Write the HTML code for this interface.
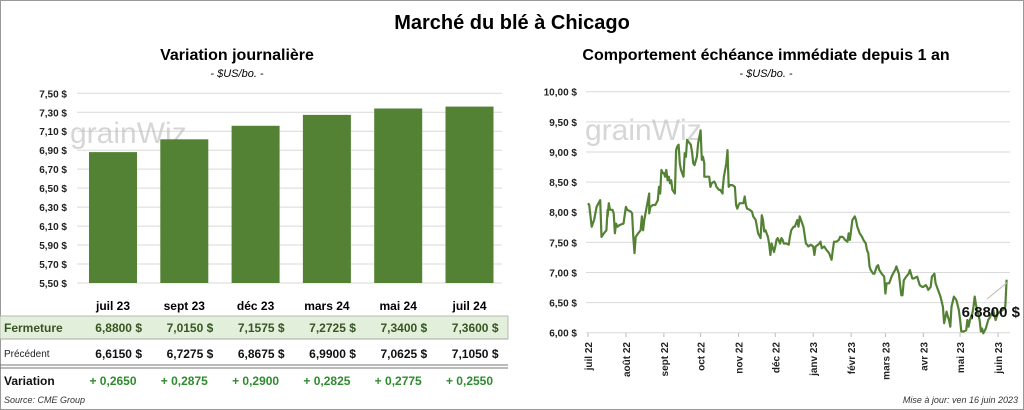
<!DOCTYPE html>
<html><head><meta charset="utf-8"><style>
body{margin:0;background:#fff;}
svg{display:block;font-family:"Liberation Sans",sans-serif;}
</style></head><body>
<svg width="1024" height="410" viewBox="0 0 1024 410">
<rect x="0.5" y="0.5" width="1023" height="409" fill="#fff" stroke="#999"/>
<text x="512" y="29" text-anchor="middle" font-size="20" font-weight="bold">Marché du blé à Chicago</text>
<text x="237" y="60" text-anchor="middle" font-size="16" font-weight="bold">Variation  journalière</text>
<text x="237" y="77" text-anchor="middle" font-size="11" font-style="italic">- $US/bo. -</text>
<text x="766" y="60" text-anchor="middle" font-size="16" font-weight="bold">Comportement  échéance immédiate depuis 1 an</text>
<text x="766" y="77" text-anchor="middle" font-size="11" font-style="italic">- $US/bo. -</text>
<g id="left"></g>
<g id="right"></g>
<g id="table"></g>
<text x="4" y="403" font-size="9" font-style="italic" fill="#333">Source: CME Group</text>
<text x="1018" y="403" text-anchor="end" font-size="9" font-style="italic" fill="#333">Mise à jour: ven 16 juin 2023</text>
</svg>
<script>
const barCategories=["juil 23","sept 23","déc 23","mars 24","mai 24","juil 24"];
const closeValues=[6.88,7.015,7.1575,7.2725,7.34,7.36];
const prevValues=[6.615,6.7275,6.8675,6.99,7.0625,7.105];
const leftTicks=[5.5,5.7,5.9,6.1,6.3,6.5,6.7,6.9,7.1,7.3,7.5];
const rightTicks=[6,6.5,7,7.5,8,8.5,9,9.5,10];
const monthLabels=["juil 22","août 22","sept 22","oct 22","nov 22","déc 22","janv 23","févr 23","mars 23","avr 23","mai 23","juin 23"];
const monthDays=[0,31,62,92,123,153,184,215,243,274,304,335];
const lineDays=[0,1,3,5,7,10,11,13,15,16,16,17,18,20,21,22,23,24,26,29,31,32,35,36,37,38,39,41,43,44,45,46,47,48,50,50,51,53,55,57,58,59,60,61,62,63,64,65,66,67,68,69,71,72,73,74,75,76,78,79,80,81,82,84,85,86,87,89,90,92,93,94,95,95,96,99,100,101,103,104,105,107,108,110,110,111,113,114,115,116,118,120,121,122,123,124,127,128,129,130,132,134,135,137,138,139,141,142,143,144,145,147,148,149,150,152,153,154,155,157,158,159,160,162,164,165,166,168,168,169,171,172,173,174,176,178,179,180,182,184,185,186,188,189,190,191,193,194,195,197,199,200,201,203,205,206,208,209,210,212,213,214,215,216,218,219,220,222,224,225,227,228,229,230,231,233,234,236,237,238,239,240,242,243,244,246,247,248,250,251,252,253,254,256,257,258,260,262,263,265,266,269,271,273,274,276,277,278,280,281,283,284,286,288,290,291,293,294,295,296,297,299,300,301,303,304,305,307,309,310,311,312,314,315,316,317,318,320,321,322,323,325,327,328,330,331,333,334,335,337,339,341,342,344];
const lineValues=[8.15,8.12,7.76,7.87,8.09,8.20,7.59,7.65,7.70,8.04,7.93,8.15,8.04,8.04,7.98,7.65,7.81,7.76,7.79,7.81,8.09,8.04,8.01,7.98,7.59,7.32,7.59,7.65,7.70,7.93,7.70,7.87,7.98,8.09,8.31,7.98,8.09,8.12,8.12,8.20,8.42,8.31,8.70,8.65,8.65,8.59,8.70,8.53,8.59,8.48,8.53,8.37,8.31,9.03,9.09,9.12,8.81,8.70,8.59,8.98,8.92,9.20,9.17,9.12,9.00,8.81,8.78,8.92,9.14,9.36,8.87,8.92,8.81,8.59,8.59,8.59,8.42,8.48,8.51,8.48,8.42,8.37,8.37,8.31,8.37,8.59,8.81,9.03,8.42,8.45,8.45,8.42,8.12,8.06,8.12,8.15,8.15,8.26,8.12,8.06,8.04,8.01,7.93,7.87,7.76,7.65,7.57,7.95,7.87,7.68,7.70,7.59,7.48,7.29,7.48,7.34,7.43,7.54,7.57,7.48,7.57,7.54,7.48,7.48,7.46,7.59,7.70,7.76,7.76,7.76,7.87,7.76,7.93,7.87,7.76,7.48,7.46,7.43,7.46,7.43,7.29,7.43,7.46,7.48,7.51,7.40,7.43,7.40,7.37,7.32,7.21,7.37,7.51,7.51,7.54,7.59,7.59,7.57,7.54,7.51,7.65,7.54,7.70,7.87,7.93,7.87,7.76,7.65,7.59,7.54,7.48,7.37,7.32,7.10,7.04,6.98,6.98,7.10,7.12,7.04,7.01,6.98,6.93,6.65,6.82,6.82,6.87,6.93,7.01,7.04,7.10,7.04,6.98,6.62,6.62,6.87,6.93,6.98,7.04,6.90,6.90,6.93,6.79,6.76,6.76,6.79,6.76,6.71,6.76,6.93,6.98,6.82,6.71,6.60,6.43,6.16,6.35,6.27,6.21,6.10,6.43,6.60,6.57,6.54,6.38,6.21,6.02,6.02,6.04,6.21,6.10,6.21,6.32,6.43,6.60,6.46,6.38,6.21,6.02,6.07,5.99,6.07,6.21,6.24,6.32,6.38,6.21,6.27,6.32,6.35,6.38,6.43,6.88];

const NS="http://www.w3.org/2000/svg";
function mk(parent,tag,attrs,text){const e=document.createElementNS(NS,tag);for(const k in attrs)e.setAttribute(k,attrs[k]);if(text!==undefined)e.textContent=text;parent.appendChild(e);return e;}
const fmt2=v=>v.toFixed(2).replace('.',',')+' $';
const fmt4=v=>v.toFixed(4).replace('.',',');

// Left bar chart
const L=document.getElementById('left');
const ly=v=>93.3+(7.5-v)*94.85;
const bx=i=>89+i*71.3;
leftTicks.forEach(t=>{
  const g=mk(L,'line',{x1:77,x2:502,y1:ly(t),y2:ly(t),stroke:'#d9d9d9','stroke-width':1});
  
  
  const tx=mk(L,'text',{x:67,y:ly(t)+4,'text-anchor':'end','font-size':10,'font-weight':'bold',fill:'#222'},fmt2(t));
  
  
});
const wm1=mk(L,'text',{x:70,y:143,'font-size':30,fill:'#bbb','fill-opacity':0.6},'grainWiz');


closeValues.forEach((v,i)=>{
  const r=mk(L,'rect',{x:bx(i),y:ly(v),width:48,height:ly(5.5)-ly(v),fill:'#548235'});
  
  
});

// Right line chart
const R=document.getElementById('right');
const rx=d=>588+d*(998-588)/335;
const ry=v=>91.7+(10-v)*60.25;
rightTicks.forEach(t=>{
  const g=mk(R,'line',{x1:586,x2:1010,y1:ry(t),y2:ry(t),stroke:'#d9d9d9','stroke-width':1});
  
  
  const tx=mk(R,'text',{x:577,y:ry(t)+4,'text-anchor':'end','font-size':10,'font-weight':'bold',fill:'#222'},fmt2(t));
  
  
});
monthDays.forEach((d,i)=>{
  const x=rx(d);
  const tk=mk(R,'line',{x1:x,x2:x,y1:333,y2:337,stroke:'#bbb'});
  
  
  const tx=mk(R,'text',{x:0,y:0,transform:`translate(${x+4},342) rotate(-90)`,'text-anchor':'end','font-size':10,'font-weight':'bold',fill:'#222'},monthLabels[i]);
  
  
});
const wm2=mk(R,'text',{x:585,y:140,'font-size':30,fill:'#bbb','fill-opacity':0.6},'grainWiz');


const pts=lineDays.map((d,i)=>rx(d).toFixed(1)+','+ry(lineValues[i]).toFixed(1)).join(' ');
const pl=mk(R,'polyline',{points:pts,fill:'none',stroke:'#548235','stroke-width':2.2,'stroke-linejoin':'round'});


const lastD=lineDays[lineDays.length-1], lastV=lineValues[lineValues.length-1];
const ld=mk(R,'line',{x1:987,y1:299,x2:rx(lastD)-2,y2:ry(lastV)+3,stroke:'#bbb'});


const lbl=mk(R,'text',{x:1020,y:317,'text-anchor':'end','font-size':15,'font-weight':'bold',fill:'#111'},fmt4(lastV)+' $');



// Table
const T=document.getElementById('table');
const cx=i=>bx(i)+24;
barCategories.forEach((c,i)=>{
  const t=mk(T,'text',{x:cx(i),y:310,'text-anchor':'middle','font-size':12,'font-weight':'bold'},c);
  
  
});
const fr=mk(T,'rect',{x:0,y:316,width:508,height:23,fill:'#e2efda',stroke:'#aaa','stroke-width':0.8});


const rowL=[['Fermeture',332,12,'#375623','bold'],['Précédent',357,10,'#222','normal'],['Variation',385,12,'#111','bold']];
rowL.forEach(r=>{
  const t=mk(T,'text',{x:4,y:r[1],'font-size':r[2],fill:r[3],'font-weight':r[4]},r[0]);
  
  
});
const l1=mk(T,'line',{x1:0,x2:508,y1:365,y2:365,stroke:'#777'});


const l2=mk(T,'line',{x1:0,x2:508,y1:368,y2:368,stroke:'#777'});


const l3=mk(T,'line',{x1:0,x2:508,y1:339,y2:339,stroke:'#aaa'});


closeValues.forEach((v,i)=>{
  const t=mk(T,'text',{x:cx(i)+29,y:332,'text-anchor':'end','font-size':12,'font-weight':'bold',fill:'#375623','xml:space':'preserve'},fmt4(v)+'  $');
  
  
  const p=mk(T,'text',{x:cx(i)+29,y:358,'text-anchor':'end','font-size':12,'font-weight':'bold',fill:'#111','xml:space':'preserve'},fmt4(prevValues[i])+'  $');
  
  
  const d=mk(T,'text',{x:cx(i),y:385,'text-anchor':'middle','font-size':12,'font-weight':'bold',fill:'#2e8b2e'},'+ '+fmt4(v-prevValues[i]));
  
  
});
</script>
</body></html>
